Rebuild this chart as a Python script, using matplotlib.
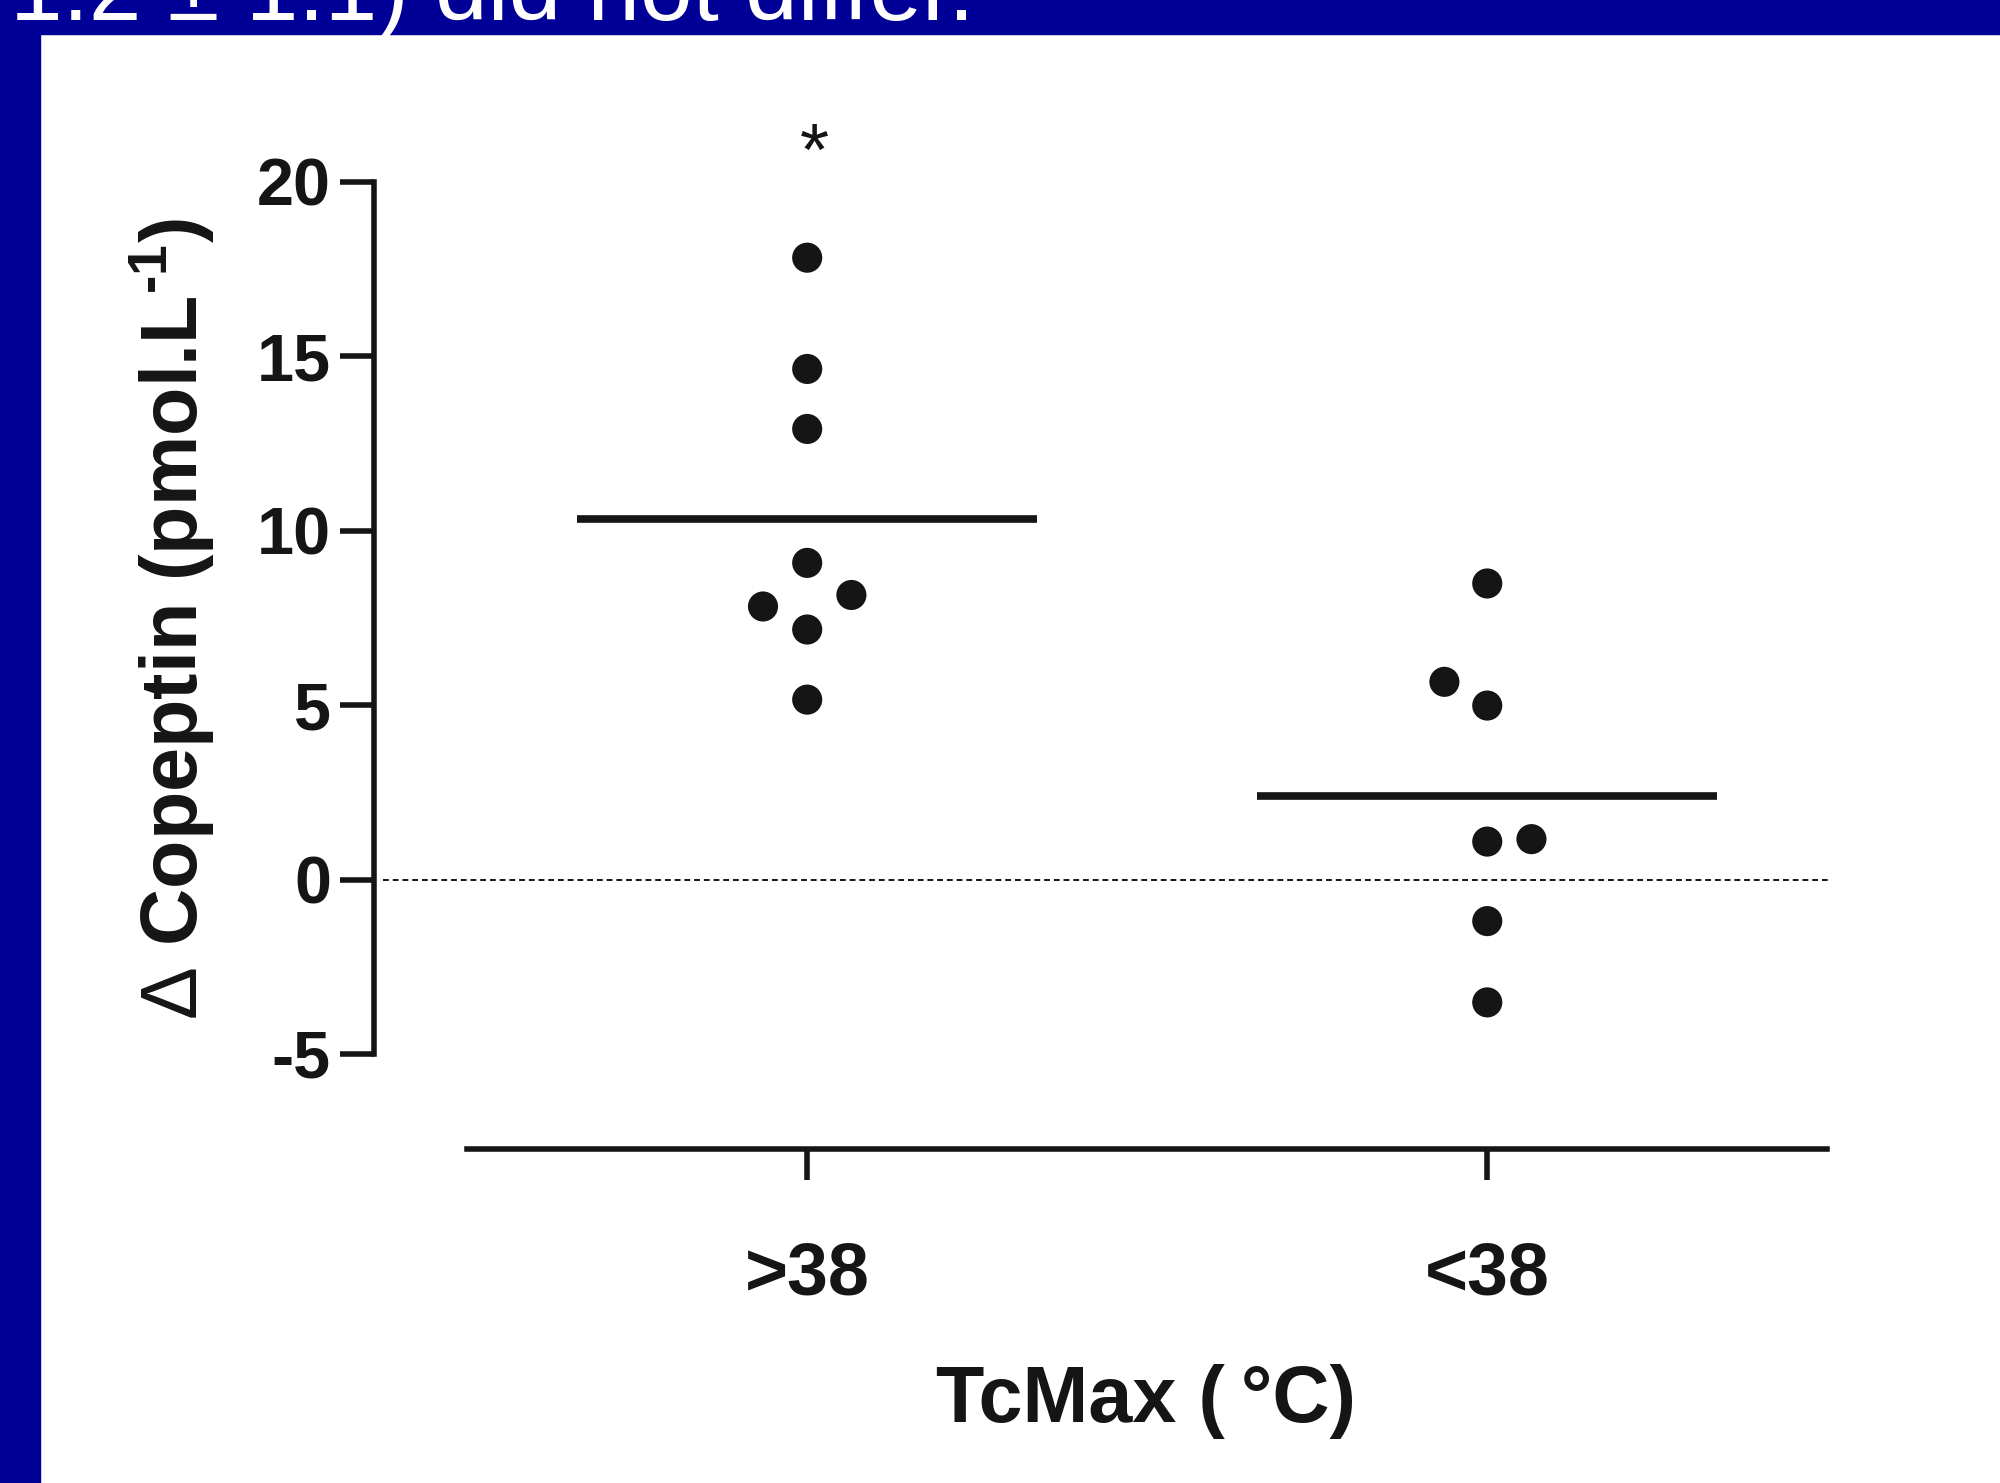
import matplotlib
matplotlib.use('Agg')
import matplotlib.pyplot as plt
from matplotlib.patches import Rectangle
import numpy as np

plt.rcParams['font.family'] = ['Liberation Sans', 'DejaVu Sans']
plt.rcParams['axes.unicode_minus'] = False
plt.rcParams['mathtext.fontset'] = 'custom'
plt.rcParams['mathtext.rm'] = 'Liberation Sans'
plt.rcParams['mathtext.bf'] = 'Liberation Sans:bold'

# data
groups = ['>38', '<38']
hot_vals = [17.83, 14.64, 12.92, 9.08, 8.16, 7.83, 7.17, 5.16]
cool_vals = [8.49, 5.67, 4.99, 1.09, 1.16, -1.19, -3.52]
# horizontal scatter offsets for overlapping dots
hot_jit = [0, 0, 0, 0, 0.065, -0.065, 0, 0]
cool_jit = [0, -0.063, 0, 0, 0.065, 0, 0]
yticks = [-5, 0, 5, 10, 15, 20]

ink = '#151515'
navy = '#000096'

fig = plt.figure(figsize=(20, 14.83), dpi=100)
fig.patch.set_facecolor('white')

# slide frame: blue band on top and strip on left
fig.add_artist(Rectangle((0, 1 - 34 / 1483), 1, 34 / 1483, transform=fig.transFigure,
                         color=navy, zorder=0))
fig.add_artist(Rectangle((0, 0), 40 / 2000, 1, transform=fig.transFigure,
                         color=navy, zorder=0))
fig.text(975 / 2000, 1 - 20 / 1483, '1.2 \u00b1 1.1) did not differ.', color='white',
         fontsize=68, ha='right', va='baseline', zorder=1)

ax = fig.add_axes([374 / 2000, 1 - 1054 / 1483, 1456 / 2000, 872 / 1483])
ax.set_facecolor('none')

for i, (vals, jit) in enumerate([(hot_vals, hot_jit), (cool_vals, cool_jit)]):
    pos = i + 1
    ax.scatter(np.array(jit) + pos, vals, s=470, color=ink, edgecolors='none',
               clip_on=False, zorder=3)
    ax.hlines(np.mean(vals), pos - 0.338, pos + 0.338, lw=5.5, color=ink,
              zorder=2)

ax.axhline(0, xmin=0.006, xmax=1, color=ink, lw=1.4, ls=(0, (3, 2)), zorder=1)
ax.text(1.01, 20.2, '*', ha='center', va='baseline', fontsize=54, color=ink)

ax.set_xlim(0.363, 2.504)
ax.set_ylim(-5, 20)

for s in ['top', 'right']:
    ax.spines[s].set_visible(False)
ax.spines['left'].set_linewidth(4)
ax.spines['left'].set_color(ink)
ax.spines['left'].set_bounds(-5, 20)
ax.spines['bottom'].set_linewidth(4)
ax.spines['bottom'].set_color(ink)
ax.spines['bottom'].set_position(('outward', 68.4))
ax.spines['bottom'].set_bounds(0.5, 2.5)

ax.set_yticks(yticks)
ax.set_yticklabels([str(t) for t in yticks], fontweight='bold')
ax.set_xticks([1, 2])
ax.set_xticklabels(groups, fontweight='bold')
ax.tick_params(axis='y', length=24.5, width=4, pad=6.5, labelsize=48, color=ink,
               labelcolor=ink)
ax.tick_params(axis='x', length=22, width=4, pad=44, labelsize=53, color=ink,
               labelcolor=ink)

fig.text(1146 / 2000, 1 - 1422 / 1483, 'TcMax (\u2009\u00b0C)', fontsize=57,
         fontweight='bold', ha='center', va='baseline', color=ink)
fig.text(198 / 2000, 1 - 619 / 1483, '$\\Delta$ Copeptin (pmol.L$^{\\mathbf{\u2010 1}}$)',
         fontsize=57, fontweight='bold', rotation=90, rotation_mode='anchor',
         ha='center', va='baseline', color=ink)

fig.savefig('out.png', dpi=100, facecolor='white')
